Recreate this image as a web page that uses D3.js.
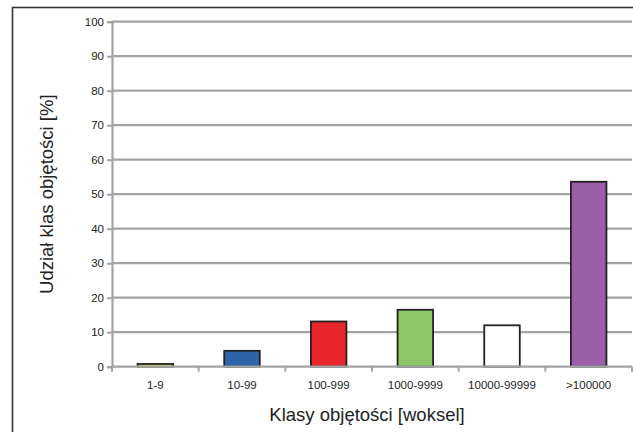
<!DOCTYPE html>
<html><head><meta charset="utf-8">
<script src="https://cdn.jsdelivr.net/npm/d3@7"></script>
<style>body{margin:0;background:#fff;}svg{display:block;font-family:"Liberation Sans",Arial,sans-serif;}</style>
</head><body>
<script>
const categories = ["1-9","10-99","100-999","1000-9999","10000-99999",">100000"];
const values = [0.8, 4.6, 13.1, 16.5, 12.0, 53.6];
const barColors = ["#ece45a","#2f63aa","#e8262b","#8cc865","#ffffff","#9b5ea8"];
const yTicks = [0,10,20,30,40,50,60,70,80,90,100];
const yTitle = "Udział klas objętości [%]";
const xTitle = "Klasy objętości [woksel]";

const W = 633, H = 432;
const m = {left:112, right:1, top:21.7, bottom:65.3};
const svg = d3.select("body").append("svg").attr("width",W).attr("height",H);

svg.append("rect").attr("x",12.5).attr("y",7.5).attr("width",W+20).attr("height",H+20)
  .attr("fill","none").attr("stroke","#333").attr("stroke-width",1.6);

const x = d3.scaleBand().domain(categories).range([m.left, W-m.right]).paddingInner(0.59).paddingOuter(0.295);
const xb = d3.scaleBand().domain(categories).range([m.left, W-m.right]);
const y = d3.scaleLinear().domain([0,100]).range([H-m.bottom, m.top]);

// gridlines
svg.append("g").selectAll("line").data(yTicks.filter(d=>d>0)).join("line")
  .attr("x1",m.left).attr("x2",W-m.right)
  .attr("y1",d=>y(d)).attr("y2",d=>y(d))
  .attr("stroke","#a3a3a3").attr("stroke-width",2.2);

// y axis
const yAxis = svg.append("g").attr("transform",`translate(${m.left},0)`)
  .call(d3.axisLeft(y).tickValues(yTicks).tickSize(5).tickPadding(3));
yAxis.select(".domain").attr("stroke","#a3a3a3").attr("stroke-width",2.2);
yAxis.selectAll(".tick line").attr("stroke","#a3a3a3").attr("stroke-width",2);
yAxis.selectAll("text").attr("fill","#222").attr("font-size",11.5).attr("font-family","Liberation Sans, Arial, sans-serif");

// bars
svg.append("g").selectAll("rect").data(values).join("rect")
  .attr("x",(d,i)=>x(categories[i])).attr("width",x.bandwidth())
  .attr("y",d=>y(d)).attr("height",d=>y(0)-y(d))
  .attr("fill",(d,i)=>barColors[i]).attr("stroke","#222").attr("stroke-width",1.8);

// x axis
const xAxis = svg.append("g").attr("transform",`translate(0,${y(0)})`)
  .call(d3.axisBottom(xb).tickSize(0).tickPadding(14));
xAxis.select(".domain").remove();
svg.append("line").attr("x1",m.left).attr("x2",W-m.right).attr("y1",y(0)).attr("y2",y(0))
  .attr("stroke","#a3a3a3").attr("stroke-width",2.2);
svg.append("g").selectAll("line").data(d3.range(categories.length+1)).join("line")
  .attr("x1",i=>m.left+i*xb.step()).attr("x2",i=>m.left+i*xb.step())
  .attr("y1",y(0)).attr("y2",y(0)+5).attr("stroke","#a3a3a3").attr("stroke-width",2);
xAxis.selectAll("text").attr("fill","#222").attr("font-size",11.5).attr("font-family","Liberation Sans, Arial, sans-serif");

// titles
svg.append("text").attr("x",367).attr("y",421).attr("text-anchor","middle")
  .attr("font-size",18.5).attr("fill","#222").text(xTitle);
svg.append("text").attr("transform",`translate(53,${(y(0)+y(100))/2}) rotate(-90)`)
  .attr("text-anchor","middle").attr("font-size",18.5).attr("fill","#222").text(yTitle);
</script>
</body></html>
